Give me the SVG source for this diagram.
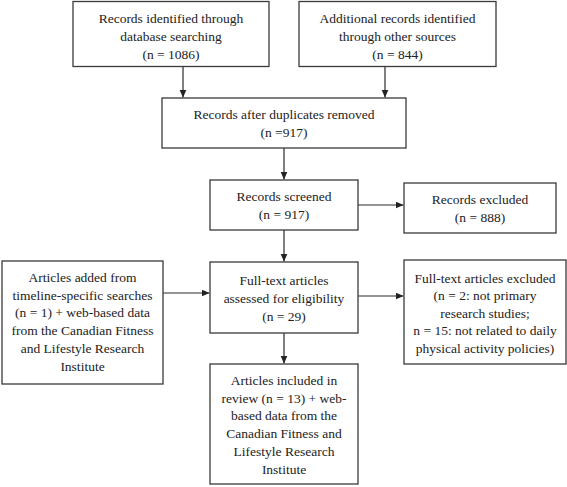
<svg xmlns="http://www.w3.org/2000/svg" width="567" height="487" viewBox="0 0 567 487">
<style>
.box{fill:#fff;stroke:#3a3a3a;stroke-width:1.3}
.t{font-family:"Liberation Serif","Times New Roman",serif;font-size:13.5px;fill:#222;text-anchor:middle}
.c{stroke:#2a2a2a;stroke-width:1.2;fill:none;marker-end:url(#ah)}
</style>
<defs>
<marker id="ah" markerUnits="userSpaceOnUse" markerWidth="9" markerHeight="8" refX="8" refY="3.5" orient="auto">
<path d="M0,0 L8,3.5 L0,7 z" fill="#222"/>
</marker>
</defs>
<rect width="567" height="487" fill="#fff"/>
<g id="connectors">
<line class="c" x1="183" y1="67" x2="183" y2="97.5"/>
<line class="c" x1="385" y1="67" x2="385" y2="97.5"/>
<line class="c" x1="284" y1="148" x2="284" y2="179.5"/>
<line class="c" x1="358" y1="205" x2="403.5" y2="205"/>
<line class="c" x1="284" y1="230" x2="284" y2="261.5"/>
<line class="c" x1="358" y1="296" x2="403.5" y2="296"/>
<line class="c" x1="163" y1="293" x2="209.5" y2="293"/>
<line class="c" x1="284" y1="333" x2="284" y2="363.5"/>
</g>
<g id="n1">
<rect class="box" x="73" y="1.5" width="196" height="65"/>
<text class="t" x="171" y="22.5">Records identified through</text>
<text class="t" x="171" y="40.7">database searching</text>
<text class="t" x="171" y="59">(n = 1086)</text>
</g>
<g id="n2">
<rect class="box" x="299" y="1.5" width="197" height="65"/>
<text class="t" x="397.5" y="22.5">Additional records identified</text>
<text class="t" x="397.5" y="40.7">through other sources</text>
<text class="t" x="397.5" y="59">(n = 844)</text>
</g>
<g id="n3">
<rect class="box" x="162" y="98" width="244" height="50"/>
<text class="t" x="284" y="119">Records after duplicates removed</text>
<text class="t" x="284" y="137">(n =917)</text>
</g>
<g id="n4">
<rect class="box" x="210" y="180" width="148" height="50"/>
<text class="t" x="284" y="201">Records screened</text>
<text class="t" x="284" y="219">(n = 917)</text>
</g>
<g id="n5">
<rect class="box" x="404" y="183" width="152" height="50"/>
<text class="t" x="480" y="204">Records excluded</text>
<text class="t" x="480" y="222">(n = 888)</text>
</g>
<g id="n6">
<rect class="box" x="210" y="262" width="148" height="71"/>
<text class="t" x="284" y="284.5">Full-text articles</text>
<text class="t" x="284" y="302.5">assessed for eligibility</text>
<text class="t" x="284" y="320.5">(n = 29)</text>
</g>
<g id="n7">
<rect class="box" x="404" y="260" width="162" height="104"/>
<text class="t" x="485" y="282.5">Full-text articles excluded</text>
<text class="t" x="485" y="300">(n = 2: not primary</text>
<text class="t" x="485" y="317.5">research studies;</text>
<text class="t" x="485" y="335">n = 15: not related to daily</text>
<text class="t" x="485" y="352.5">physical activity policies)</text>
</g>
<g id="n8">
<rect class="box" x="2" y="261" width="161" height="123"/>
<text class="t" x="82.5" y="282">Articles added from</text>
<text class="t" x="82.5" y="299.7">timeline-specific searches</text>
<text class="t" x="82.5" y="317.4">(n = 1) + web-based data</text>
<text class="t" x="82.5" y="335.1">from the Canadian Fitness</text>
<text class="t" x="82.5" y="352.8">and Lifestyle Research</text>
<text class="t" x="82.5" y="370.5">Institute</text>
</g>
<g id="n9">
<rect class="box" x="210" y="364" width="148" height="120"/>
<text class="t" x="284" y="385">Articles included in</text>
<text class="t" x="284" y="402.7">review (n = 13) + web-</text>
<text class="t" x="284" y="420.4">based data from the</text>
<text class="t" x="284" y="438.1">Canadian Fitness and</text>
<text class="t" x="284" y="455.8">Lifestyle Research</text>
<text class="t" x="284" y="473.5">Institute</text>
</g>
</svg>
